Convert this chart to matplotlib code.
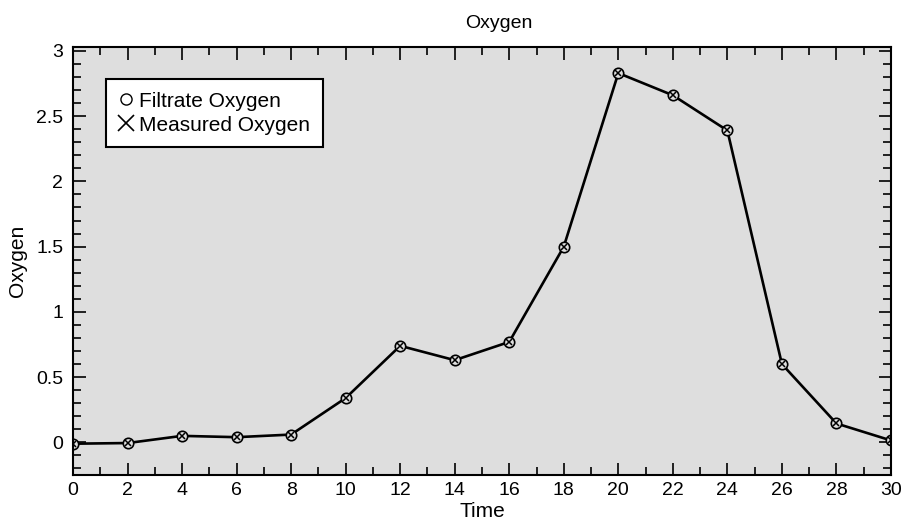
import matplotlib
matplotlib.use("Agg")
import matplotlib.pyplot as plt
from matplotlib.ticker import MultipleLocator
from matplotlib.lines import Line2D

plt.rcParams['font.family'] = ['Liberation Sans', 'DejaVu Sans']

time = [0, 2, 4, 6, 8, 10, 12, 14, 16, 18, 20, 22, 24, 26, 28, 30]
oxygen = [-0.01, -0.005, 0.05, 0.04, 0.06, 0.34, 0.74, 0.63, 0.77, 1.50,
          2.83, 2.66, 2.39, 0.60, 0.145, 0.015]

fig = plt.figure(figsize=(9.06, 5.22), dpi=100)
ax = fig.add_axes([0.0806, 0.090, 0.9028, 0.820])
ax.set_facecolor('#dedede')

ax.plot(time, oxygen, color='black', linewidth=1.9)
# filtrate: open circles, measured: crosses (same values)
ax.plot(time, oxygen, linestyle='none', marker='o', markersize=7.5,
        markerfacecolor='#dedede', markeredgecolor='black', markeredgewidth=1.2)
ax.plot(time, oxygen, linestyle='none', marker='x', markersize=4.5,
        color='black', markeredgewidth=1.1)

ax.set_xlim(0, 30)
ax.set_ylim(-0.25, 3.03)
ax.xaxis.set_major_locator(MultipleLocator(2))
ax.xaxis.set_minor_locator(MultipleLocator(1))
ax.yaxis.set_minor_locator(MultipleLocator(0.1))
ax.set_yticks([0, 0.5, 1, 1.5, 2, 2.5, 3])
ax.set_yticklabels(['0', '0.5', '1', '1.5', '2', '2.5', '3'])
ax.tick_params(which='both', direction='in', top=True, right=True, labelsize=14)
ax.tick_params(which='major', length=9, width=1.2)
ax.tick_params(which='minor', length=5.5, width=1.2)
ax.tick_params(axis='x', which='major', pad=5)
ax.tick_params(axis='y', which='major', pad=7)
for s in ax.spines.values():
    s.set_linewidth(1.5)

ax.set_title('Oxygen', fontsize=14, pad=14, x=0.521)
ax.set_xlabel('Time', fontsize=15, labelpad=2)
ax.set_ylabel('Oxygen', fontsize=15)
ax.yaxis.set_label_coords(-0.056, 0.5)

handles = [Line2D([], [], linestyle='none', marker='o', markersize=8,
                  markerfacecolor='none', markeredgecolor='black'),
           Line2D([], [], linestyle='none', marker='x', markersize=11,
                  color='black', markeredgewidth=1.2)]
leg = ax.legend(handles, ['Filtrate Oxygen', 'Measured Oxygen'], loc='upper left',
                bbox_to_anchor=(0.04, 0.925), fontsize=15, fancybox=False,
                framealpha=1, edgecolor='black', handlelength=0.7,
                handletextpad=0.3, borderpad=0.6, labelspacing=0.25,
                borderaxespad=0)
leg.get_frame().set_linewidth(1.5)

fig.savefig('out.png', dpi=100)
